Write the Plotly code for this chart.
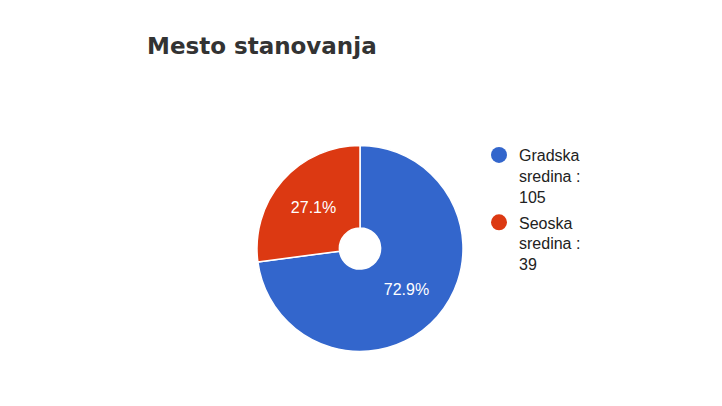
import plotly.graph_objects as go

categories = ["Gradska sredina", "Seoska sredina"]
values = [105, 39]
legend_labels = ["Gradska<br>sredina :<br>105", "Seoska<br>sredina :<br>39"]
colors = ["#3366cc", "#dc3912"]

W, H = 722, 406
OFF = 8  # page body margin
cx, cy, r = 360 - OFF, 248.5 - OFF, 103

fig = go.Figure()
fig.add_trace(go.Pie(
    labels=categories,
    values=values,
    sort=False,
    direction="clockwise",
    rotation=0,
    hole=0.2,
    marker=dict(colors=colors, line=dict(color="white", width=1.5)),
    textinfo="percent",
    texttemplate="%{percent:.1%}",
    textposition="inside",
    insidetextorientation="horizontal",
    textfont=dict(family="Liberation Sans, Arial", size=16, color="white"),
    showlegend=False,
    domain=dict(x=[(cx - r) / W, (cx + r) / W], y=[1 - (cy + r) / H, 1 - (cy - r) / H]),
))

for i, (lab, col) in enumerate(zip(legend_labels, colors)):
    fig.add_trace(go.Scatter(
        x=[None], y=[None], mode="markers", name=lab,
        legendgroup=f"g{i}",
        marker=dict(symbol="circle", size=16, color=col),
        showlegend=True,
    ))

fig.update_layout(
    width=W, height=H,
    margin=dict(l=0, r=0, t=0, b=0),
    paper_bgcolor="white", plot_bgcolor="white",
    xaxis=dict(visible=False), yaxis=dict(visible=False),
    title=dict(
        text="<b>Mesto stanovanja</b>",
        x=(147 - OFF) / W, xanchor="left", xref="paper",
        y=1 - (46 - OFF) / H, yanchor="middle", yref="container",
        font=dict(family="DejaVu Sans, Verdana", size=23, color="#333333"),
    ),
    legend=dict(
        x=(479 - OFF) / W, xanchor="left", y=1 - (138 - OFF) / H, yanchor="top",
        valign="top", tracegroupgap=2,
        font=dict(family="Liberation Sans, Arial", size=16, color="#222222"),
        bgcolor="rgba(0,0,0,0)",
    ),
    showlegend=True,
)

fig.write_html("out.html")
